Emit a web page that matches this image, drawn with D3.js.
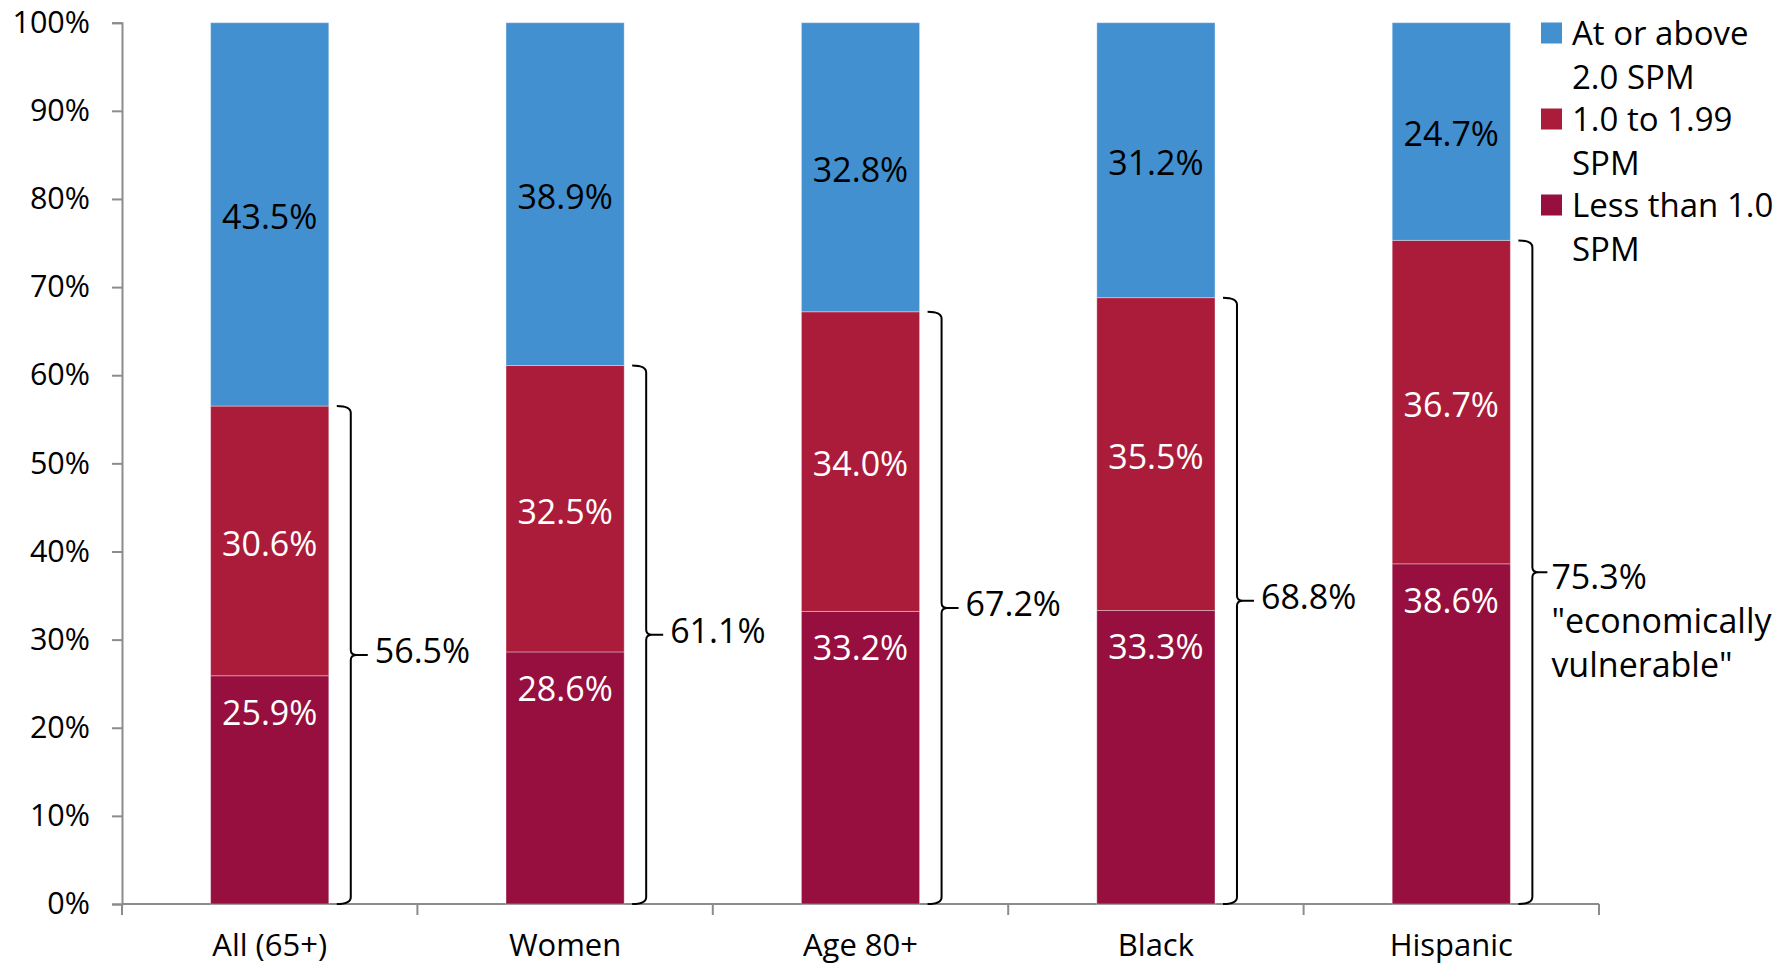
<!DOCTYPE html>
<html>
<head>
<meta charset="utf-8">
<script src="https://cdn.jsdelivr.net/npm/d3@7"></script>
<style>
  html, body { margin: 0; padding: 0; background: #fff; }
  svg { display: block; }
  text { font-family: "Open Sans", "Noto Sans", sans-serif; }
</style>
</head>
<body>
<svg id="chart" width="1787" height="966"></svg>
<script>
const categories = ["All (65+)", "Women", "Age 80+", "Black", "Hispanic"];
const lessThan1 = [25.9, 28.6, 33.2, 33.3, 38.6];
const between1and2 = [30.6, 32.5, 34.0, 35.5, 36.7];
const above2 = [43.5, 38.9, 32.8, 31.2, 24.7];
const seriesKeys = ["less", "mid", "above"];
const seriesColors = ["#960f3f", "#ab1c3a", "#4290d0"];
const labelColors = ["#ffffff", "#ffffff", "#000000"];
const legendEntries = [
  { key: "above", lines: ["At or above", "2.0 SPM"] },
  { key: "mid", lines: ["1.0 to 1.99", "SPM"] },
  { key: "less", lines: ["Less than 1.0", "SPM"] }
];
const yTicks = [0, 10, 20, 30, 40, 50, 60, 70, 80, 90, 100];
const noteLines = ['"economically', 'vulnerable"'];

const svg = d3.select("#chart");
const fmt = d3.format(".1f");

const x = d3.scaleBand().domain(categories).range([122, 1599]).paddingInner(0.6).paddingOuter(0.3);
const y = d3.scaleLinear().domain([0, 100]).range([904, 22.7]);

const table = categories.map((c, i) => ({ cat: c, less: lessThan1[i], mid: between1and2[i], above: above2[i] }));
const stacked = d3.stack().keys(seriesKeys)(table);

// Y axis
const yAxis = svg.append("g").attr("transform", `translate(${x.range()[0]},0)`)
  .call(d3.axisLeft(y).tickValues(yTicks).tickFormat(d => d + "%").tickSize(10).tickPadding(22));
yAxis.select(".domain").attr("stroke", "#8c8c8c").attr("stroke-width", 2);
yAxis.selectAll(".tick line").attr("stroke", "#8c8c8c").attr("stroke-width", 2);
yAxis.selectAll(".tick text").attr("font-size", 30.5).attr("fill", "#000");

// X axis (ticks at category boundaries)
const xAxisG = svg.append("g").attr("transform", `translate(0,${y(0)})`);
xAxisG.append("line").attr("x1", x.range()[0]).attr("x2", x.range()[1])
  .attr("stroke", "#8c8c8c").attr("stroke-width", 2);
const boundaries = d3.range(categories.length + 1).map(i => x.range()[0] + i * x.step());
xAxisG.selectAll("line.b").data(boundaries).join("line").attr("class", "b")
  .attr("x1", d => d).attr("x2", d => d).attr("y1", 0).attr("y2", 11)
  .attr("stroke", "#8c8c8c").attr("stroke-width", 2);
xAxisG.selectAll("text.cat").data(categories).join("text").attr("class", "cat")
  .attr("x", d => x(d) + x.bandwidth() / 2).attr("y", 52)
  .attr("text-anchor", "middle").attr("font-size", 31).attr("fill", "#000")
  .text(d => d);

// Bars
stacked.forEach((layer, li) => {
  const g = svg.append("g");
  g.selectAll("rect").data(layer).join("rect")
    .attr("x", d => x(d.data.cat))
    .attr("width", x.bandwidth())
    .attr("y", d => y(d[1]))
    .attr("height", d => y(d[0]) - y(d[1]))
    .attr("fill", seriesColors[li])
    .attr("stroke", "#ffffff").attr("stroke-opacity", 0.35).attr("stroke-width", 1);
  g.selectAll("text").data(layer).join("text")
    .attr("x", d => x(d.data.cat) + x.bandwidth() / 2)
    .attr("y", d => li === 0 ? y(d[1]) + 37 : (y(d[0]) + y(d[1])) / 2 + 3)
    .attr("dy", "0.35em")
    .attr("text-anchor", "middle").attr("font-size", 34)
    .attr("fill", labelColors[li])
    .text(d => fmt(d[1] - d[0]) + "%");
});

// Braces
const braceG = svg.append("g");
table.forEach((d, i) => {
  const total = d.less + d.mid;
  const last = i === categories.length - 1;
  const xb = x(d.cat) + x.bandwidth();
  const x0 = xb + 8, x1 = xb + 22, x2 = last ? xb + 37 : xb + 39;
  const yTop = y(total), yBot = y(0), yMid = y(total / 2);
  const r = 7;
  const p = d3.path();
  p.moveTo(x0, yTop);
  p.quadraticCurveTo(x1, yTop, x1, yTop + r);
  p.lineTo(x1, yMid - 5);
  p.quadraticCurveTo(x1, yMid, x1 + 6, yMid);
  p.lineTo(x2, yMid);
  p.moveTo(x1 + 6, yMid);
  p.quadraticCurveTo(x1, yMid, x1, yMid + 5);
  p.lineTo(x1, yBot - r);
  p.quadraticCurveTo(x1, yBot, x0, yBot);
  braceG.append("path").attr("d", p.toString()).attr("fill", "none")
    .attr("stroke", "#000").attr("stroke-width", 2);
  const lines = [fmt(total) + "%"].concat(last ? noteLines : []);
  const tx = last ? x2 + 4 : x2 + 7;
  const ty = last ? yMid + 5 : yMid - 4;
  const t = braceG.append("text").attr("x", tx).attr("y", ty).attr("font-size", 34).attr("fill", "#000");
  lines.forEach((ln, k) => {
    t.append("tspan").attr("x", tx).attr("y", ty + k * 44).attr("dy", "0.35em").text(ln);
  });
});

// Legend
const leg = svg.append("g");
legendEntries.forEach((e, i) => {
  const li = seriesKeys.indexOf(e.key);
  const top = 33 + i * 86;
  leg.append("rect").attr("x", 1541).attr("y", top - 10.5).attr("width", 21).attr("height", 21)
    .attr("fill", seriesColors[li]);
  e.lines.forEach((ln, k) => {
    leg.append("text").attr("x", 1572).attr("y", top + k * 44).attr("dy", "0.35em")
      .attr("font-size", 33).attr("fill", "#000").text(ln);
  });
});
</script>
</body>
</html>
